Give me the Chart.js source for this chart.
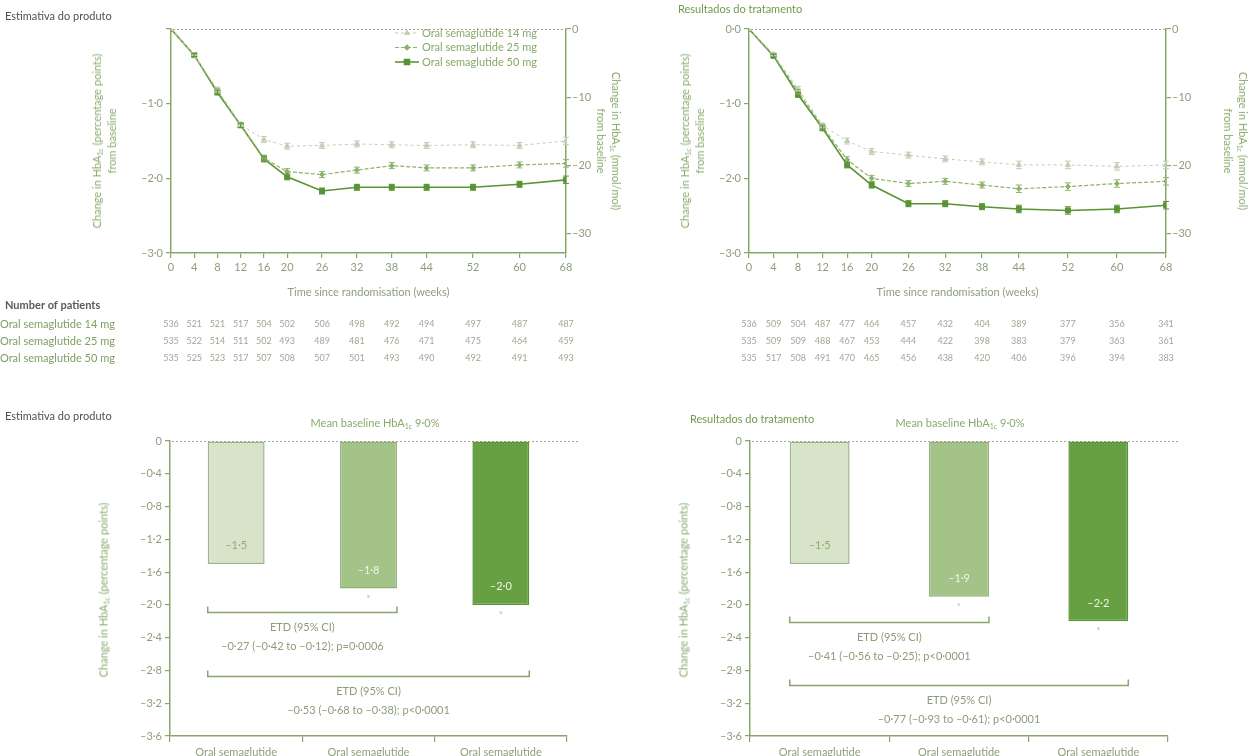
<!DOCTYPE html>
<html>
<head>
<meta charset="utf-8">
<script src="https://cdn.jsdelivr.net/npm/chart.js@4.4.1/dist/chart.umd.min.js"></script>
<style>
  html, body { margin: 0; padding: 0; background: #fff; }
  body { width: 1248px; height: 756px; position: relative; overflow: hidden;
         font-family: Lato, "Noto Sans", sans-serif; }
  canvas { position: absolute; }
  .t { position: absolute; white-space: nowrap; font-size: 11px; line-height: 13px; }
  .rot { position: absolute; white-space: nowrap; text-align: center; font-size: 11px;
         line-height: 15px; color: #8aab6c; transform: translate(-50%, -50%) rotate(-90deg); }
  .rot.cw { transform: translate(-50%, -50%) rotate(90deg); }
  .ctr { transform: translateX(-50%); }
  sub { font-size: 7px; vertical-align: -2px; line-height: 0; }
</style>
</head>
<body>

<canvas id="lineEst" width="624" height="372" style="left:0;top:0"></canvas>
<canvas id="lineTrt" width="624" height="372" style="left:624px;top:0"></canvas>
<canvas id="barEst" width="624" height="376" style="left:0;top:380px"></canvas>
<canvas id="barTrt" width="624" height="376" style="left:624px;top:380px"></canvas>

<div class="t" style="left:5px;top:9px;color:#505050">Estimativa do produto</div>
<div class="t" style="left:678px;top:2px;color:#6f9c4c">Resultados do tratamento</div>
<div class="rot" style="left:104px;top:141px">Change in HbA<sub>1c</sub> (percentage points)<br>from baseline</div>
<div class="rot cw" style="left:609px;top:141px">Change in HbA<sub>1c</sub> (mmol/mol)<br>from baseline</div>
<div class="rot" style="left:692px;top:141px">Change in HbA<sub>1c</sub> (percentage points)<br>from baseline</div>
<div class="rot cw" style="left:1236px;top:141px">Change in HbA<sub>1c</sub> (mmol/mol)<br>from baseline</div>

<div class="t" style="left:5px;top:409px;color:#505050">Estimativa do produto</div>
<div class="t ctr" style="left:375px;top:416px;color:#8aab6c">Mean baseline HbA<sub>1c</sub> 9·0%</div>
<div class="rot" style="left:103px;top:590px">Change in HbA<sub>1c</sub> (percentage points)</div>
<div class="t" style="left:690px;top:412px;color:#6f9c4c">Resultados do tratamento</div>
<div class="t ctr" style="left:960px;top:416px;color:#8aab6c">Mean baseline HbA<sub>1c</sub> 9·0%</div>
<div class="rot" style="left:683px;top:590px">Change in HbA<sub>1c</sub> (percentage points)</div>

<script>
// ---- data ---------------------------------------------------------------
const weeks = [0, 4, 8, 12, 16, 20, 26, 32, 38, 44, 52, 60, 68];
const seriesNames = ['Oral semaglutide 14 mg', 'Oral semaglutide 25 mg', 'Oral semaglutide 50 mg'];

// Treatment-policy estimand: change in HbA1c (percentage points)
const est14 = [0, -0.35, -0.81, -1.28, -1.48, -1.57, -1.56, -1.54, -1.55, -1.56, -1.55, -1.56, -1.50];
const est25 = [0, -0.35, -0.83, -1.29, -1.73, -1.91, -1.95, -1.89, -1.83, -1.86, -1.86, -1.82, -1.80];
const est50 = [0, -0.35, -0.85, -1.29, -1.74, -1.98, -2.17, -2.12, -2.12, -2.12, -2.12, -2.08, -2.02];
const errEst = [0, 0.02, 0.03, 0.03, 0.04, 0.04, 0.04, 0.04, 0.04, 0.04, 0.04, 0.04, 0.05];

// Trial-product estimand
const trt14 = [0, -0.34, -0.80, -1.29, -1.50, -1.64, -1.69, -1.74, -1.78, -1.82, -1.82, -1.84, -1.82];
const trt25 = [0, -0.35, -0.84, -1.31, -1.75, -2.00, -2.07, -2.04, -2.09, -2.14, -2.11, -2.07, -2.04];
const trt50 = [0, -0.36, -0.88, -1.33, -1.82, -2.09, -2.34, -2.34, -2.38, -2.41, -2.43, -2.41, -2.36];
const errTrt = [0, 0.02, 0.03, 0.03, 0.04, 0.04, 0.04, 0.04, 0.04, 0.05, 0.05, 0.05, 0.05];

// Number of patients at each visit
const nEst14 = [536, 521, 521, 517, 504, 502, 506, 498, 492, 494, 497, 487, 487];
const nEst25 = [535, 522, 514, 511, 502, 493, 489, 481, 476, 471, 475, 464, 459];
const nEst50 = [535, 525, 523, 517, 507, 508, 507, 501, 493, 490, 492, 491, 493];
const nTrt14 = [536, 509, 504, 487, 477, 464, 457, 432, 404, 389, 377, 356, 341];
const nTrt25 = [535, 509, 509, 488, 467, 453, 444, 422, 398, 383, 379, 363, 361];
const nTrt50 = [535, 517, 508, 491, 470, 465, 456, 438, 420, 406, 396, 394, 383];

// Change at week 52 (bars)
const barLabels = [['Oral semaglutide', '14 mg'], ['Oral semaglutide', '25 mg'], ['Oral semaglutide', '50 mg']];
const barEst = [-1.5, -1.8, -2.0];
const barTrt = [-1.5, -1.9, -2.2];
const significant = [false, true, true];
const etdEst = ['–0·27 (–0·42 to –0·12); p=0·0006', '–0·53 (–0·68 to –0·38); p<0·0001'];
const etdTrt = ['–0·41 (–0·56 to –0·25); p<0·0001', '–0·77 (–0·93 to –0·61); p<0·0001'];

// ---- styling ------------------------------------------------------------
const FONT = 'Lato, "Noto Sans", sans-serif';
const AXIS = '#8aa56c';
const TICK = '#8d9e7d';
const C14 = '#c2ceb6', C25 = '#8db36c', C50 = '#5a9336';
const MMOL_PER_PCT = 10.93;

const fmt = v => (v < 0 ? '–' : '') + Math.abs(v).toFixed(1).replace('.', '·');

// ---- plugins ------------------------------------------------------------
const zeroLine = {
  id: 'zeroLine',
  beforeDatasetsDraw(chart, args, o) {
    const y = Math.round(chart.scales.y.getPixelForValue(0)) + 0.5;
    const { left, right } = chart.chartArea;
    const ctx = chart.ctx;
    ctx.save();
    ctx.strokeStyle = '#a5a5a5';
    ctx.lineWidth = 1;
    ctx.setLineDash([2, 2]);
    ctx.beginPath();
    ctx.moveTo(left + 2, y);
    ctx.lineTo(right + (o.extend || 0), y);
    ctx.stroke();
    ctx.restore();
  }
};

const errorBars = {
  id: 'errorBars',
  afterDatasetsDraw(chart) {
    const ctx = chart.ctx, ys = chart.scales.y;
    chart.data.datasets.forEach((ds, i) => {
      if (!ds.errors) return;
      const meta = chart.getDatasetMeta(i);
      ctx.save();
      ctx.strokeStyle = ds.borderColor;
      ctx.lineWidth = 1;
      ctx.setLineDash([]);
      meta.data.forEach((pt, j) => {
        const e = ds.errors[j];
        if (!e) return;
        const v = ds.data[j].y;
        const y1 = ys.getPixelForValue(v + e), y2 = ys.getPixelForValue(v - e);
        ctx.beginPath();
        ctx.moveTo(pt.x, y1); ctx.lineTo(pt.x, y2);
        ctx.moveTo(pt.x - 3, y1); ctx.lineTo(pt.x + 3, y1);
        ctx.moveTo(pt.x - 3, y2); ctx.lineTo(pt.x + 3, y2);
        ctx.stroke();
      });
      ctx.restore();
    });
  }
};

const inlineLegend = {
  id: 'inlineLegend',
  afterDraw(chart, args, o) {
    if (!o.show) return;
    const ctx = chart.ctx;
    const x0 = chart.chartArea.right - 171;
    chart.data.datasets.forEach((ds, i) => {
      const y = chart.chartArea.top + 4 + i * 14.5;
      ctx.save();
      ctx.strokeStyle = ds.borderColor;
      ctx.lineWidth = ds.borderWidth;
      ctx.setLineDash(ds.borderDash || []);
      ctx.beginPath();
      ctx.moveTo(x0, y); ctx.lineTo(x0 + 24, y);
      ctx.stroke();
      ctx.setLineDash([]);
      ctx.fillStyle = ds.pointBackgroundColor;
      ctx.strokeStyle = ds.borderColor;
      Chart.helpers.drawPoint(ctx, { pointStyle: ds.pointStyle, radius: ds.pointRadius, rotation: 0, borderWidth: 1 }, x0 + 12, y);
      ctx.font = '11px ' + FONT;
      ctx.fillStyle = '#86aa68';
      ctx.textBaseline = 'middle';
      ctx.textAlign = 'left';
      ctx.fillText(seriesNames[i], x0 + 27, y);
      ctx.restore();
    });
  }
};

const patientTable = {
  id: 'patientTable',
  afterDraw(chart, args, o) {
    const ctx = chart.ctx, xs = chart.scales.x;
    ctx.save();
    ctx.textBaseline = 'middle';
    if (o.header) {
      ctx.font = 'bold 11px ' + FONT;
      ctx.fillStyle = '#5a5a5a';
      ctx.textAlign = 'left';
      ctx.fillText(o.header, 5, o.headerY);
    }
    o.rows.forEach((row, r) => {
      const y = o.rowY[r];
      if (o.showNames) {
        ctx.font = '11px ' + FONT;
        ctx.fillStyle = '#7f9f62';
        ctx.textAlign = 'left';
        ctx.fillText(seriesNames[r], 0, y);
      }
      ctx.font = '9px ' + FONT;
      ctx.fillStyle = '#a2a796';
      ctx.textAlign = 'center';
      row.forEach((n, i) => ctx.fillText(String(n), xs.getPixelForValue(weeks[i]), y));
    });
    ctx.restore();
  }
};

const barNotes = {
  id: 'barNotes',
  afterDatasetsDraw(chart, args, o) {
    const ctx = chart.ctx, ys = chart.scales.y;
    const meta = chart.getDatasetMeta(0);
    const vals = chart.data.datasets[0].data;
    ctx.save();
    ctx.textAlign = 'center';
    ctx.textBaseline = 'middle';
    meta.data.forEach((bar, i) => {
      const v = vals[i];
      ctx.font = '11px ' + FONT;
      ctx.fillStyle = o.labelColors[i];
      ctx.fillText(fmt(v), bar.x, ys.getPixelForValue(v + 0.22));
      if (significant[i]) {
        ctx.fillStyle = '#b4b8ad';
        ctx.font = '10px ' + FONT;
        ctx.fillText('*', bar.x, ys.getPixelForValue(v - 0.12));
      }
    });
    o.brackets.forEach(b => {
      const a = meta.data[b.from], c = meta.data[b.to];
      const xl = a.x - a.width / 2, xr = c.x + c.width / 2;
      const y = Math.round(ys.getPixelForValue(b.level)) + 0.5;
      ctx.strokeStyle = AXIS;
      ctx.lineWidth = 1.5;
      ctx.beginPath();
      ctx.moveTo(xl, y - 6); ctx.lineTo(xl, y); ctx.lineTo(xr, y); ctx.lineTo(xr, y - 6);
      ctx.stroke();
      ctx.fillStyle = '#8d9c7c';
      ctx.font = '11px ' + FONT;
      const cx = (xl + xr) / 2;
      ctx.fillText('ETD (95% CI)', cx, y + 15);
      ctx.fillText(b.text, cx, y + 34);
    });
    ctx.restore();
  }
};

// ---- builders -----------------------------------------------------------
function lineDataset(label, vals, errs, color, style, radius, width, dash) {
  return {
    label,
    data: weeks.map((w, i) => ({ x: w, y: vals[i] })),
    errors: errs,
    borderColor: color,
    backgroundColor: color,
    pointBackgroundColor: color,
    pointBorderColor: color,
    pointStyle: style,
    pointRadius: radius,
    pointBorderWidth: 1,
    borderWidth: width,
    borderDash: dash,
    tension: 0
  };
}

function lineChart(id, s14, s25, s50, errs, counts, cfg) {
  new Chart(document.getElementById(id), {
    type: 'line',
    data: {
      datasets: [
        lineDataset(seriesNames[0], s14, errs, C14, 'triangle', 3, 1, [3, 3]),
        lineDataset(seriesNames[1], s25, errs, C25, 'rectRot', 2.5, 1.2, [4, 2]),
        lineDataset(seriesNames[2], s50, errs, C50, 'rect', 3.5, 1.6, [])
      ]
    },
    options: {
      responsive: false,
      animation: false,
      layout: { padding: { top: 29, bottom: 69, left: 0, right: 0 } },
      scales: {
        x: {
          type: 'linear', min: 0, max: 68,
          afterBuildTicks: s => { s.ticks = weeks.map(v => ({ value: v })); },
          afterFit: s => { s.height = 50; },
          ticks: { color: TICK, font: { family: FONT, size: 11 }, padding: 3, maxRotation: 0, autoSkip: false },
          grid: { drawOnChartArea: false, color: AXIS, tickLength: 5, lineWidth: 1.2 },
          border: { color: AXIS, width: 1.5 },
          title: { display: true, text: 'Time since randomisation (weeks)', color: TICK,
                   font: { family: FONT, size: 11 }, padding: { top: 4, bottom: 4 } }
        },
        y: {
          position: 'left', min: -3, max: 0,
          afterBuildTicks: s => { s.ticks = [0, -1, -2, -3].map(v => ({ value: v })); },
          afterFit: s => { s.width = cfg.leftWidth; },
          ticks: { color: TICK, font: { family: FONT, size: 11 }, padding: 3,
                   callback: v => (v === 0 ? cfg.zeroLabel : fmt(v)) },
          grid: { drawOnChartArea: false, color: AXIS, tickLength: 5, lineWidth: 1.2 },
          border: { color: AXIS, width: 1.5 }
        },
        y2: {
          position: 'right', min: -3 * MMOL_PER_PCT, max: 0,
          afterBuildTicks: s => { s.ticks = [0, -10, -20, -30].map(v => ({ value: v })); },
          afterFit: s => { s.width = cfg.rightWidth; },
          ticks: { color: TICK, font: { family: FONT, size: 11 }, padding: 1,
                   callback: v => (v === 0 ? '0' : '–' + Math.abs(v)) },
          grid: { drawOnChartArea: false, color: AXIS, tickLength: 5, lineWidth: 1.2 },
          border: { color: AXIS, width: 1.5 }
        }
      },
      plugins: {
        legend: { display: false },
        tooltip: { enabled: false },
        zeroLine: { extend: 0 },
        inlineLegend: { show: cfg.legend },
        patientTable: {
          header: cfg.tableHeader, headerY: 305, showNames: cfg.tableHeader !== '',
          rowY: [324, 341, 358], rows: counts
        }
      }
    },
    plugins: [zeroLine, errorBars, inlineLegend, patientTable]
  });
}

function barChart(id, vals, etd, cfg) {
  new Chart(document.getElementById(id), {
    type: 'bar',
    data: {
      labels: barLabels,
      datasets: [{
        data: vals,
        backgroundColor: ['#d7e4c9', '#a3c388', '#66a042'],
        borderColor: ['#9fb38c', '#8fae74', '#5b9338'],
        borderWidth: 1.5,
        borderSkipped: false,
        categoryPercentage: 1,
        barPercentage: 0.43
      }]
    },
    options: {
      responsive: false,
      animation: false,
      layout: { padding: { top: 61, bottom: 0, left: 0, right: cfg.rightPad } },
      scales: {
        x: {
          afterFit: s => { s.height = 20; },
          ticks: { color: TICK, font: { family: FONT, size: 11 }, padding: 4, maxRotation: 0 },
          grid: { drawOnChartArea: false, offset: true, color: AXIS, tickLength: 6, lineWidth: 1.2 },
          border: { color: AXIS, width: 1.5 }
        },
        y: {
          min: -3.6, max: 0,
          afterBuildTicks: s => {
            s.ticks = [0, -0.4, -0.8, -1.2, -1.6, -2.0, -2.4, -2.8, -3.2, -3.6].map(v => ({ value: v }));
          },
          afterFit: s => { s.width = cfg.leftWidth; },
          ticks: { color: TICK, font: { family: FONT, size: 11 }, padding: 3,
                   callback: v => (v === 0 ? '0' : fmt(v)) },
          grid: { drawOnChartArea: false, color: AXIS, tickLength: 5, lineWidth: 1.2 },
          border: { color: AXIS, width: 1.5 }
        }
      },
      plugins: {
        legend: { display: false },
        tooltip: { enabled: false },
        zeroLine: { extend: 12 },
        barNotes: {
          labelColors: ['#8fad76', '#eef4e7', '#eef4e7'],
          brackets: [
            { from: 0, to: 1, level: cfg.levels[0], text: etd[0] },
            { from: 0, to: 2, level: cfg.levels[1], text: etd[1] }
          ]
        }
      }
    },
    plugins: [zeroLine, barNotes]
  });
}

// ---- panels -------------------------------------------------------------
lineChart('lineEst', est14, est25, est50, errEst, [nEst14, nEst25, nEst50],
  { leftWidth: 171, rightWidth: 58, zeroLabel: '', legend: true, tableHeader: 'Number of patients' });
lineChart('lineTrt', trt14, trt25, trt50, errTrt, [nTrt14, nTrt25, nTrt50],
  { leftWidth: 125, rightWidth: 82, zeroLabel: '0·0', legend: false, tableHeader: '' });

barChart('barEst', barEst, etdEst, { leftWidth: 170, rightPad: 57, levels: [-2.09, -2.87] });
barChart('barTrt', barTrt, etdTrt, { leftWidth: 126, rightPad: 80, levels: [-2.21, -2.98] });
</script>
</body>
</html>
